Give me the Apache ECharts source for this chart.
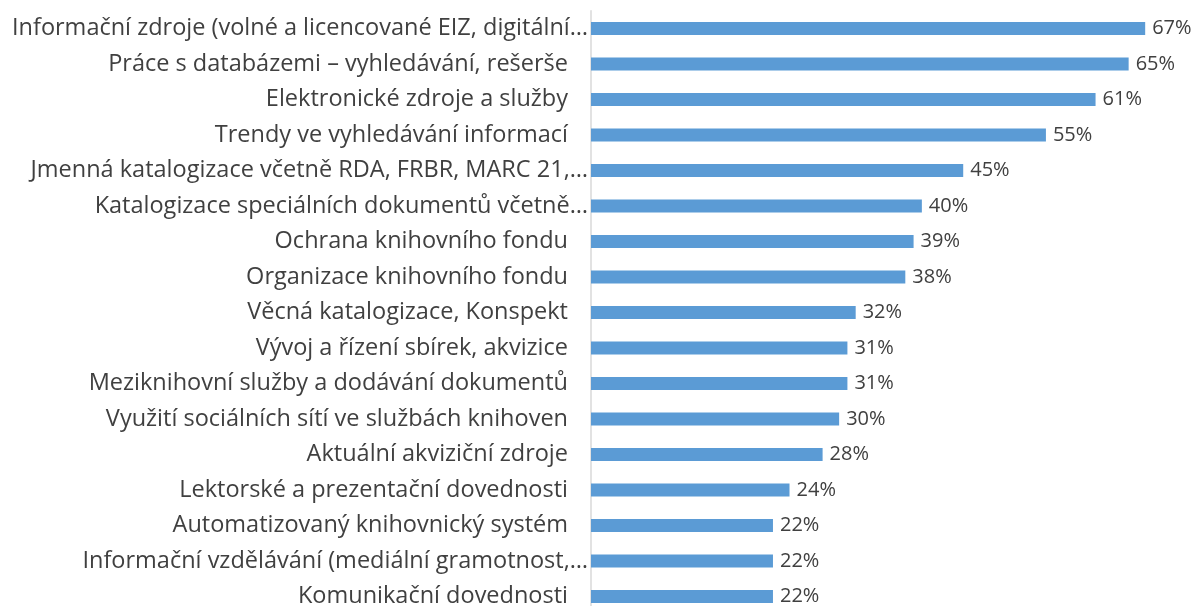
<!DOCTYPE html>
<html>
<head>
<meta charset="utf-8">
<script src="https://cdn.jsdelivr.net/npm/echarts@6/dist/echarts.min.js"></script>
<style>html,body{margin:0;padding:0;background:#fff;overflow:hidden}#c{width:1196px;height:615px}</style>
</head>
<body>
<div id="c"></div>
<script>
const categories = [
  "Informační zdroje (volné a licencované EIZ, digitální…",
  "Práce s databázemi – vyhledávání, rešerše",
  "Elektronické zdroje a služby",
  "Trendy ve vyhledávání informací",
  "Jmenná katalogizace včetně RDA, FRBR, MARC 21,…",
  "Katalogizace speciálních dokumentů včetně…",
  "Ochrana knihovního fondu",
  "Organizace knihovního fondu",
  "Věcná katalogizace, Konspekt",
  "Vývoj a řízení sbírek, akvizice",
  "Meziknihovní služby a dodávání dokumentů",
  "Využití sociálních sítí ve službách knihoven",
  "Aktuální akviziční zdroje",
  "Lektorské a prezentační dovednosti",
  "Automatizovaný knihovnický systém",
  "Informační vzdělávání (mediální gramotnost,…",
  "Komunikační dovednosti"
];
const values = [67, 65, 61, 55, 45, 40, 39, 38, 32, 31, 31, 30, 28, 24, 22, 22, 22];

const chart = echarts.init(document.getElementById('c'), null, {renderer: 'canvas'});
const FONT = 'Open Sans';
chart.setOption({
  animation: false,
  grid: {left: 591, top: 10.75, width: 579, height: 603.5, containLabel: false},
  xAxis: {type: 'value', min: 0, max: 70, show: false},
  yAxis: {
    type: 'category', data: categories, inverse: true,
    axisLine: {lineStyle: {color: '#D9D9D9', width: 1.5}},
    axisTick: {show: false},
    axisLabel: {
      margin: 3,
      formatter: v => v.endsWith('…') ? '{t|' + v + '}' : '{n|' + v + '}',
      rich: {
        t: {fontFamily: FONT, fontSize: 23.5, color: '#404040', padding: [0, 0, 0, 0]},
        n: {fontFamily: FONT, fontSize: 23.5, color: '#404040', padding: [0, 20, 0, 0]}
      }
    }
  },
  series: [{
    type: 'bar', data: values, barWidth: 13,
    itemStyle: {color: '#5B9BD5'},
    label: {show: true, position: 'right', distance: 7, formatter: '{c}%',
      fontFamily: FONT, fontSize: 20, color: '#404040'}
  }]
});
</script>
</body>
</html>
